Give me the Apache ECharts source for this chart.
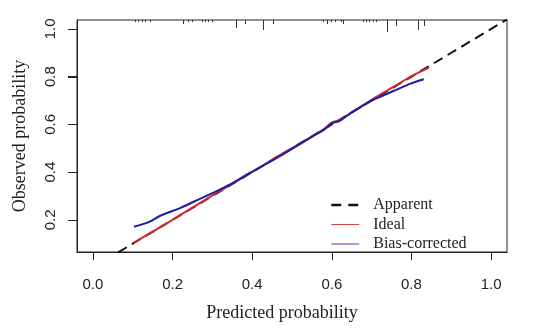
<!DOCTYPE html>
<html>
<head>
<meta charset="utf-8">
<script src="https://cdn.jsdelivr.net/npm/echarts@6/dist/echarts.min.js"></script>
<style>
html,body{margin:0;padding:0;background:#fff;}
#chart{width:543px;height:332px;}
</style>
</head>
<body>
<div id="chart"></div>
<script>
// ---- data ----
const xTicks = [0.0, 0.2, 0.4, 0.6, 0.8, 1.0];
const yTicks = [0.2, 0.4, 0.6, 0.8, 1.0];
const xTickLabels = ['0.0', '0.2', '0.4', '0.6', '0.8', '1.0'];
const yTickLabels = ['0.2', '0.4', '0.6', '0.8', '1.0'];

const apparentX = [-0.04, 1.04];
const apparentY = [-0.04, 1.04];

const idealX = [0.103, 0.15, 0.2, 0.25, 0.3, 0.35, 0.38, 0.42, 0.45, 0.5, 0.55, 0.58, 0.6, 0.62, 0.65, 0.7, 0.76, 0.8, 0.844];
const idealY = [0.104, 0.15, 0.2, 0.251, 0.302, 0.352, 0.384, 0.42, 0.452, 0.5, 0.55, 0.58, 0.607, 0.618, 0.65, 0.703, 0.762, 0.802, 0.838];

const biasX = [0.103, 0.14, 0.169, 0.22, 0.27, 0.30, 0.33, 0.36, 0.40, 0.45, 0.5, 0.55, 0.58, 0.6, 0.62, 0.65, 0.7, 0.723, 0.766, 0.798, 0.831];
const biasY = [0.171, 0.19, 0.217, 0.25, 0.289, 0.312, 0.336, 0.362, 0.401, 0.448, 0.497, 0.548, 0.577, 0.604, 0.615, 0.65, 0.7, 0.717, 0.748, 0.771, 0.789];

// distribution of predicted probabilities (rug on top), relative counts
const rugX = [0.106, 0.113, 0.123, 0.131, 0.143, 0.227, 0.239, 0.249, 0.275, 0.282, 0.290, 0.300,
              0.360, 0.383, 0.426, 0.453, 0.579, 0.589, 0.597, 0.609, 0.622, 0.627,
              0.678, 0.685, 0.693, 0.703, 0.710, 0.738, 0.761, 0.816, 0.831];
const rugCount = [1, 1, 1, 1, 1, 2, 1, 1, 1, 1, 1, 1,
                  4, 2, 5, 2, 1, 2, 1, 1, 1, 2,
                  1, 1, 1, 1, 1, 6, 3, 5, 3];

const seriesNames = ['Apparent', 'Ideal', 'Bias-corrected'];

// ---- chart ----
const zip = (a, b) => a.map((v, i) => [v, b[i]]);
const chart = echarts.init(document.getElementById('chart'), null, {renderer: 'canvas'});
const sans = 'Liberation Sans, Arial, sans-serif';
const serif = 'Liberation Serif, Times New Roman, serif';

chart.setOption({
  animation: false,
  backgroundColor: '#fff',
  grid: {left: 77, top: 20, right: 36, bottom: 80, show: true, borderColor: '#222', borderWidth: 1, backgroundColor: 'transparent'},
  xAxis: {
    type: 'value', min: -0.04, max: 1.04,
    name: 'Predicted probability', nameLocation: 'middle', nameGap: 52,
    nameTextStyle: {fontFamily: serif, fontSize: 18, color: '#222', padding: [0, 20, 0, 0]},
    axisLine: {show: true, onZero: false, lineStyle: {color: '#222', width: 1}},
    splitLine: {show: false},
    axisTick: {show: true, inside: false, length: 8, lineStyle: {color: '#222'}, customValues: xTicks},
    axisLabel: {show: true, margin: 25, fontFamily: sans, fontSize: 15, color: '#222',
      customValues: xTicks, formatter: v => xTickLabels[xTicks.findIndex(t => Math.abs(t - v) < 1e-9)] || ''}
  },
  yAxis: {
    type: 'value', min: 0.065, max: 1.0375, position: 'left',
    name: 'Observed probability', nameLocation: 'middle', nameGap: 48,
    nameTextStyle: {fontFamily: serif, fontSize: 18, color: '#222'},
    axisLine: {show: true, onZero: false, lineStyle: {color: '#222', width: 1}},
    splitLine: {show: false},
    axisTick: {show: true, inside: false, length: 9, lineStyle: {color: '#222'}, customValues: yTicks},
    axisLabel: {show: true, rotate: 90, margin: 19, fontFamily: sans, fontSize: 15, color: '#222',
      customValues: yTicks, formatter: v => yTickLabels[yTicks.findIndex(t => Math.abs(t - v) < 1e-9)] || ''}
  },
  legend: {
    orient: 'vertical', left: 325, top: 192,
    itemWidth: 28, itemHeight: 16, itemGap: 3.5,
    itemStyle: {opacity: 0},
    formatter: n => '{a|' + n + '}',
    textStyle: {fontFamily: serif, fontSize: 16, color: '#222',
      rich: {a: {fontFamily: serif, fontSize: 16, color: '#222', padding: [0, 0, 0, 9]}}},
    data: [
      {name: seriesNames[0], lineStyle: {width: 2.5, type: [10, 7], color: '#111'}},
      {name: seriesNames[1], lineStyle: {width: 1, color: '#d04040'}},
      {name: seriesNames[2], lineStyle: {width: 1, color: '#4040b0'}}
    ]
  },
  series: [
    {
      name: seriesNames[0], type: 'line', data: zip(apparentX, apparentY), clip: true,
      symbol: 'none', lineStyle: {color: '#111', width: 2, type: [10, 6]}, itemStyle: {color: '#111'}, z: 2
    },
    {
      name: seriesNames[1], type: 'line', data: zip(idealX, idealY), clip: true, smooth: 0.3,
      symbol: 'none', lineStyle: {color: '#d42a2a', width: 2}, itemStyle: {color: '#d42a2a'}, z: 3
    },
    {
      name: seriesNames[2], type: 'line', data: zip(biasX, biasY), clip: true, smooth: 0.3,
      symbol: 'none', lineStyle: {color: '#1c1ca8', width: 2}, itemStyle: {color: '#1c1ca8'}, z: 4
    },
    {
      name: 'rug', type: 'custom', silent: true, z: 5,
      data: zip(rugX, rugCount),
      renderItem: function (params, api) {
        const p = api.coord([api.value(0), 0]);
        const top = params.coordSys.y;
        const len = api.value(1) * 2;
        return {type: 'line', shape: {x1: Math.round(p[0]) + 0.5, y1: top, x2: Math.round(p[0]) + 0.5, y2: top + len},
                style: {stroke: '#333', lineWidth: 1}};
      }
    },
    {
      name: 'yticks', type: 'custom', silent: true, z: 5, clip: false,
      data: yTicks.map(v => [0, v]),
      renderItem: function (params, api) {
        const p = api.coord([0, api.value(1)]);
        const left = params.coordSys.x;
        const y = Math.round(p[1]) + 0.5;
        return {type: 'line', shape: {x1: left - 9, y1: y, x2: left, y2: y},
                style: {stroke: '#222', lineWidth: 1}};
      }
    }
  ]
});
</script>
</body>
</html>
